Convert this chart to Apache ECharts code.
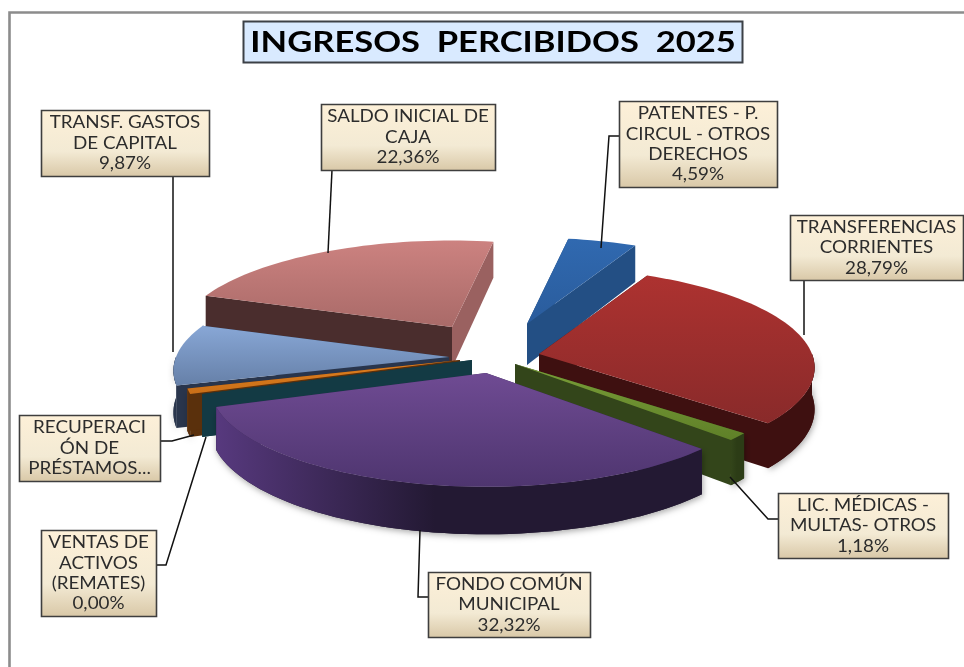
<!DOCTYPE html>
<html><head><meta charset="utf-8">
<style>html,body{margin:0;padding:0;background:#fff}#c{width:964px;height:667px}</style>
<script src="https://cdn.jsdelivr.net/npm/echarts@6/dist/echarts.min.js"></script>
</head><body><div id="c"></div>
<script>
// ---- data ----
const categories = ['PATENTES - P. CIRCUL - OTROS DERECHOS','TRANSFERENCIAS CORRIENTES','LIC. MÉDICAS - MULTAS- OTROS','FONDO COMÚN MUNICIPAL','VENTAS DE ACTIVOS (REMATES)','RECUPERACIÓN DE PRÉSTAMOS...','TRANSF. GASTOS DE CAPITAL','SALDO INICIAL DE CAJA'];
const values = [4.59,28.79,1.18,32.32,0.00,0.89,9.87,22.36];
const labelLines = [
  ['PATENTES - P.','CIRCUL - OTROS','DERECHOS'],
  ['TRANSFERENCIAS','CORRIENTES'],
  ['LIC. MÉDICAS -','MULTAS- OTROS'],
  ['FONDO COMÚN','MUNICIPAL'],
  ['VENTAS DE','ACTIVOS','(REMATES)'],
  ['RECUPERACI','ÓN DE','PRÉSTAMOS...'],
  ['TRANSF. GASTOS','DE CAPITAL'],
  ['SALDO INICIAL DE','CAJA']];
const showValue = [true,true,true,true,true,false,true,true];
const titleText = 'INGRESOS  PERCIBIDOS  2025';

// ---- appearance and layout ----
const topColors = [['#3069b0','#2a5c9c'],['#ad3230','#892a2a'],['#7a9e38','#5f8028'],['#6f4b93','#4e356f'],['#1a4a52','#1a4a52'],['#e07f20','#c96f18'],['#88a7d6','#6680a8'],['#cc8280','#a96a68']];
const faceColors = ['#1f4a7c','#3e1010','#33451a','#33234f','#133a44','#5a300c','#29354c','#4a2d2d'];
const endFaceColors = ['#234f84','#3e1010','#33451a','#33234f','#133a44','#5a300c','#29354c','#9a6160'];
const rimColors = [['#2a5c9c','#1f4a7c'],['#3e1010','#3e1010'],['#33451a','#2c3c16'],['#57397e','#231933'],['#133a44','#133a44'],['#6a3a10','#5a300c'],['#2c3950','#29354c'],['#4a2d2d','#4a2d2d']];
const sliceShiftX = [57,69,45,16,2,-10,-21,-18];
const sliceShiftY = [-31,-1,9,18,5,5,2,-28];
const drawOrder = [7,0,1,2,6,5,4,3];
const pieCentre = [470,355], pieRadius = 273, tilt = 0.36, depth = 2000, thickness = 41, firstAngle = 9.9;
const boxes = [[619,101,158,86],[790,215,173,65],[778,493,170,65],[428,572,162,65],[41,530,115,86],[19,415,141,66],[41,110,168,66],[321,104,174,66]];
const leaders = [
  [[619,136],[609,136],[601,248]],
  [[804,280],[804,335]],
  [[778,519],[768,519],[730,477]],
  [[428,597],[418,597],[420,530]],
  [[156,565],[166,565],[206,437]],
  [[160,441],[172,441],[194,435]],
  [[173,176],[173,352]],
  [[332,170],[328,253]]];

const total = values.reduce((a,b)=>a+b,0);
const startAngles = [];
values.reduce((acc,v,i)=>{startAngles[i]=acc;return acc+v/total*360;},firstAngle);

function project(ax,ay,deg){
  const t=deg*Math.PI/180, X=pieRadius*Math.sin(t), Y=pieRadius*Math.cos(t), s=depth/(depth+Y);
  return {x:ax+X*s, y:ay-tilt*Y*s, h:thickness*s};
}
const grad=(a,b,h,mid)=>new echarts.graphic.LinearGradient(0,0,h?1:0,h?0:1,
  mid?[{offset:0,color:a},{offset:mid,color:b},{offset:1,color:b}]:[{offset:0,color:a},{offset:1,color:b}]);

function renderSlice(params,api){
  const i=api.value(1), v=api.value(0);
  const a0=startAngles[i], a1=a0+v/total*360;
  const ax=pieCentre[0]+sliceShiftX[i], ay=pieCentre[1]+sliceShiftY[i];
  const rim=[]; const n=Math.max(1,Math.ceil((a1-a0)/2));
  for(let k=0;k<=n;k++) rim.push(project(ax,ay,a0+(a1-a0)*k/n));
  const first=rim[0], last=rim[rim.length-1];
  const topPts=[[ax,ay]].concat(rim.map(p=>[p.x,p.y]));
  // the outer wall is only seen on the near half of the pie
  const lo=Math.max(a0,90), hi=Math.min(a1,270);
  const front=[];
  if(hi>lo){const m=Math.max(1,Math.ceil((hi-lo)/2));for(let k=0;k<=m;k++)front.push(project(ax,ay,lo+(hi-lo)*k/m));}
  const side=front.map(p=>[p.x,p.y]).concat(front.slice().reverse().map(p=>[p.x,p.y+p.h]));
  const kids=[];
  if(v>0&&side.length) kids.push({type:'polygon',shape:{points:side},style:{fill:rimColors[i][1],shadowBlur:6,shadowColor:'rgba(0,0,0,0.35)',shadowOffsetX:1,shadowOffsetY:2}});
  kids.push({type:'polygon',shape:{points:[[ax,ay],[first.x,first.y],[first.x,first.y+first.h],[ax,ay+thickness]]},style:{fill:faceColors[i]}});
  kids.push({type:'polygon',shape:{points:[[ax,ay],[last.x,last.y],[last.x,last.y+last.h],[ax,ay+thickness]]},style:{fill:endFaceColors[i]}});
  if(v>0&&side.length) kids.push({type:'polygon',shape:{points:side},style:{fill:grad(rimColors[i][0],rimColors[i][1],true,0.45)}});
  if(v>0) kids.push({type:'polygon',shape:{points:topPts},style:{fill:grad(topColors[i][0],topColors[i][1],false)}});
  return {type:'group',children:kids};
}

const fmt=v=>v.toFixed(2).replace('.',',')+'%';
const graphics=[
  {type:'polyline',silent:true,z:1,shape:{points:[[9.5,667],[9.5,12.5],[964,12.5]]},style:{fill:null,stroke:'#8c8c8c',lineWidth:2.6}},
  {type:'rect',silent:true,z:1,shape:{x:243.5,y:21.5,width:499,height:41},style:{fill:'#d9eaff',stroke:'#3c4046',lineWidth:2}},
  {type:'text',silent:true,z:2,x:493,y:43,scaleX:1.19,style:{text:titleText,fill:'#000',font:'bold 29px Lato',align:'center',verticalAlign:'middle'}}
];
leaders.forEach(l=>graphics.push({type:'polyline',silent:true,z:20,shape:{points:l},style:{fill:null,stroke:'#111',lineWidth:1.5}}));
boxes.forEach((b,i)=>{
  const lines=labelLines[i].concat(showValue[i]?[fmt(values[i])]:[]);
  graphics.push({type:'rect',silent:true,z:21,shape:{x:b[0]+.5,y:b[1]+.5,width:b[2],height:b[3]},
    style:{fill:new echarts.graphic.LinearGradient(0,0,0,1,[{offset:0,color:'#fdf0d8'},{offset:.62,color:'#f3ead4'},{offset:1,color:'#d8c7a6'}]),stroke:'#3e3e3e',lineWidth:1.6}});
  graphics.push({type:'text',silent:true,z:22,x:b[0]+b[2]/2,y:b[1]+b[3]/2+.5,scaleX:1.14,
    style:{text:lines.join('\n'),fill:'#2c2c2c',font:'16.5px Lato',lineHeight:20.4,align:'center',verticalAlign:'middle'}});
});

const chart=echarts.init(document.getElementById('c'),null,{renderer:'canvas'});
chart.setOption({
  animation:false,
  backgroundColor:'#fff',
  graphic:{elements:graphics},
  series:[{
    type:'custom',coordinateSystem:'none',renderItem:renderSlice,silent:true,z:5,
    data:drawOrder.map(i=>({name:categories[i],value:[values[i],i]}))
  }]
});
</script></body></html>
